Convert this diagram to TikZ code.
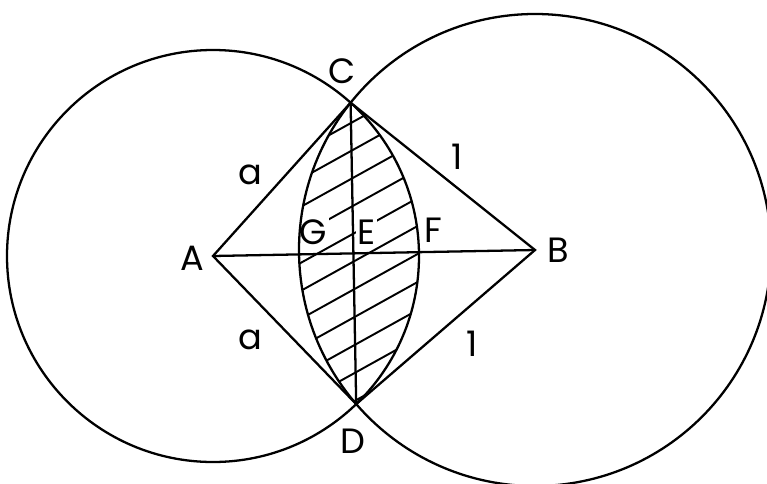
\documentclass[tikz,border=0pt]{standalone}
\usepackage{fontspec}
\setmainfont{Poppins}
\usetikzlibrary{calc}

\begin{document}
\begin{tikzpicture}[line width=1.3pt, font=\fontsize{20}{24}\selectfont,
  hatch/.style={line width=1.1pt},
  cut/.style={fill=white, inner sep=1pt}]
  \useasboundingbox (0,0) rectangle (15.34,9.66);
  \clip (0,0) rectangle (15.34,9.66);
  % --- centres and intersection points ---
  \coordinate (A) at (4.26,4.54);    % centre of left circle, r = 4.12
  \coordinate (B) at (10.70,4.66);   % centre of right circle, r = 4.72
  \coordinate (C) at (7.012,7.606);  % upper intersection
  \coordinate (D) at (7.124,1.578);  % lower intersection
  \coordinate (E) at (7.068,4.592);  % AB meets CD
  % --- hatched lens ---
  \begin{scope}
    \clip (A) circle (4.12);
    \clip (B) circle (4.72);
    \foreach \k in {-6,...,7}
      \draw[hatch] ($(E)+(-3,0.56*\k-1.83)$) -- ++(6,3.33);
  \end{scope}
  % --- labels in the lens ---
  \node[cut] (nG) at (6.27,5.02) {G};
  \node[cut] (nE) at (7.33,5.02) {E};
  \node[cut] (nF) at (8.66,5.06) {F};
  % --- circles and rhombus ---
  \draw (A) circle (4.12);
  \draw (B) circle (4.72);
  \draw (A) -- (C) -- (B) -- (D) -- cycle;
  \draw (A) -- (B);
  \draw (C) -- (D);
  % --- vertex and side labels ---
  \node (nA) at (3.84,4.50) {A};
  \node (nB) at (11.16,4.66) {B};
  \node (nC) at (6.84,8.24) {C};
  \node (nD) at (7.06,0.84) {D};
  \node (sAC) at (5.00,6.16) {a};
  \node (sAD) at (5.00,2.86) {a};
  \node (sCB) at (9.14,6.52) {1};
  \node (sBD) at (9.44,2.78) {1};
\end{tikzpicture}
\end{document}
